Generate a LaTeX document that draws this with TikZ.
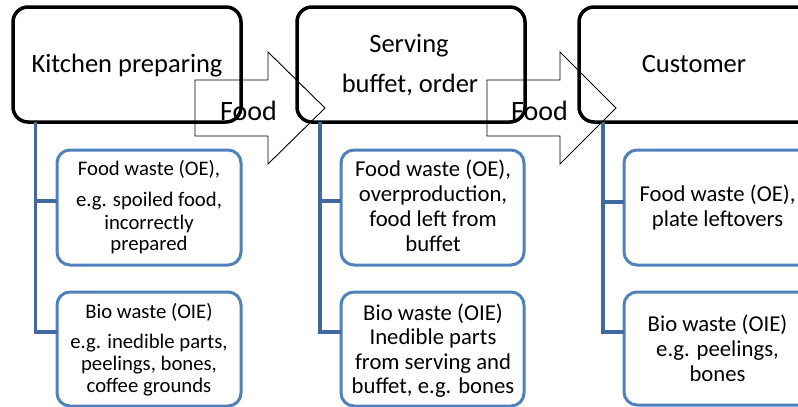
\documentclass[tikz,border=0pt]{standalone}
\usepackage{fontspec}
\setmainfont{Carlito}
\definecolor{boxblue}{RGB}{79,129,189}
\definecolor{connblue}{RGB}{65,105,160}
\begin{document}
\begin{tikzpicture}[x=1pt,y=-1pt,
  topbox/.style={draw=black,line width=3.5pt,rounded corners=15pt,fill=white},
  subbox/.style={draw=boxblue,line width=3pt,rounded corners=13pt,fill=white},
  conn/.style={draw=connblue,line width=3.2pt},
  flow/.style={draw=black,line width=0.9pt,line join=miter},
  toptxt/.style={font=\fontsize{26.5}{30}\selectfont,anchor=base,inner sep=0pt},
  foodtxt/.style={font=\fontsize{28}{32}\selectfont,anchor=base,inner sep=0pt},
  sma/.style={font=\fontsize{20.7}{22}\selectfont,anchor=base,inner sep=0pt},
  smb/.style={font=\fontsize{22.7}{25}\selectfont,anchor=base,inner sep=0pt}]
\useasboundingbox (0,0) rectangle (798,407);
\clip (0,0) rectangle (798,407);
% top boxes
\path[topbox] (13,7) rectangle (241,122);
\coordinate (k) at (127,64.5);
\path[topbox] (297,7) rectangle (525,122);
\coordinate (s) at (411,64.5);
\path[topbox] (579,7) rectangle (815,122);
\coordinate (c) at (697,64.5);
\node[toptxt] (kt) at (127,72) {Kitchen preparing};
\node[toptxt] (st1) at (409,52) {Serving};
\node[toptxt] (st2) at (410,92) {buffet, order};
\node[toptxt] (ct) at (694,72.5) {Customer};
% sub boxes
\path[subbox] (57,150) rectangle (241,265);
\path[subbox] (57,292) rectangle (241,406);
\path[subbox] (341,150) rectangle (524,265);
\path[subbox] (341,292) rectangle (524,406);
\path[subbox] (624,150) rectangle (815,265);
\path[subbox] (624,292) rectangle (815,405);
\coordinate (k1) at (57,201);
\coordinate (k2) at (57,332);
\coordinate (s1) at (341,201);
\coordinate (s2) at (341,332);
\coordinate (c1) at (624,202);
\coordinate (c2) at (624,332);
\coordinate (kb) at (35.7,122);
\coordinate (sb) at (320,122);
\coordinate (cb) at (603,122);
% connectors
\draw[conn] (kb) |- (k1);
\draw[conn] (kb) |- (k2);
\draw[conn] (sb) |- (s1);
\draw[conn] (sb) |- (s2);
\draw[conn] (cb) |- (c1);
\draw[conn] (cb) |- (c2);
% sub texts
\node[sma] (a1) at (149,175) {Food waste (OE),};
\node[sma] (a2) at (149,206.5) {e.g. spoiled food,};
\node[sma] (a3) at (149,229) {incorrectly};
\node[sma] (a4) at (149,250) {prepared};
\node[sma] (b1) at (149,318) {Bio waste (OIE)};
\node[sma] (b2) at (149,348) {e.g. inedible parts,};
\node[sma] (b3) at (149,370) {peelings, bones,};
\node[sma] (b4) at (149,392) {coffee grounds};
\node[smb] (d1) at (433,176) {Food waste (OE),};
\node[smb] (d2) at (433,201) {overproduction,};
\node[smb] (d3) at (433,226) {food left from};
\node[smb] (d4) at (433,251) {buffet};
\node[smb] (e1) at (433,320) {Bio waste (OIE)};
\node[smb] (e2) at (433,344.5) {Inedible parts};
\node[smb] (e3) at (433,369) {from serving and};
\node[smb] (e4) at (433,393.5) {buffet, e.g. bones};
\node[smb] (f1) at (717.5,201) {Food waste (OE),};
\node[smb] (f2) at (717.5,226) {plate leftovers};
\node[smb] (g1) at (717.5,331) {Bio waste (OIE)};
\node[smb] (g2) at (717.5,356) {e.g. peelings,};
\node[smb] (g3) at (717.5,381) {bones};
% flow arrows
\draw[flow] (195,80) -- (268,80) -- (268,52) -- (325,108) -- (268,164) -- (268,136) -- (195,136) -- cycle;
\draw[flow] (487,80) -- (560,80) -- (560,52) -- (616,108) -- (560,164) -- (560,136) -- (487,136) -- cycle;
\node[foodtxt] (fa) at (248.5,120) {Food};
\node[foodtxt] (fb) at (539.5,120) {Food};
\end{tikzpicture}
\end{document}
